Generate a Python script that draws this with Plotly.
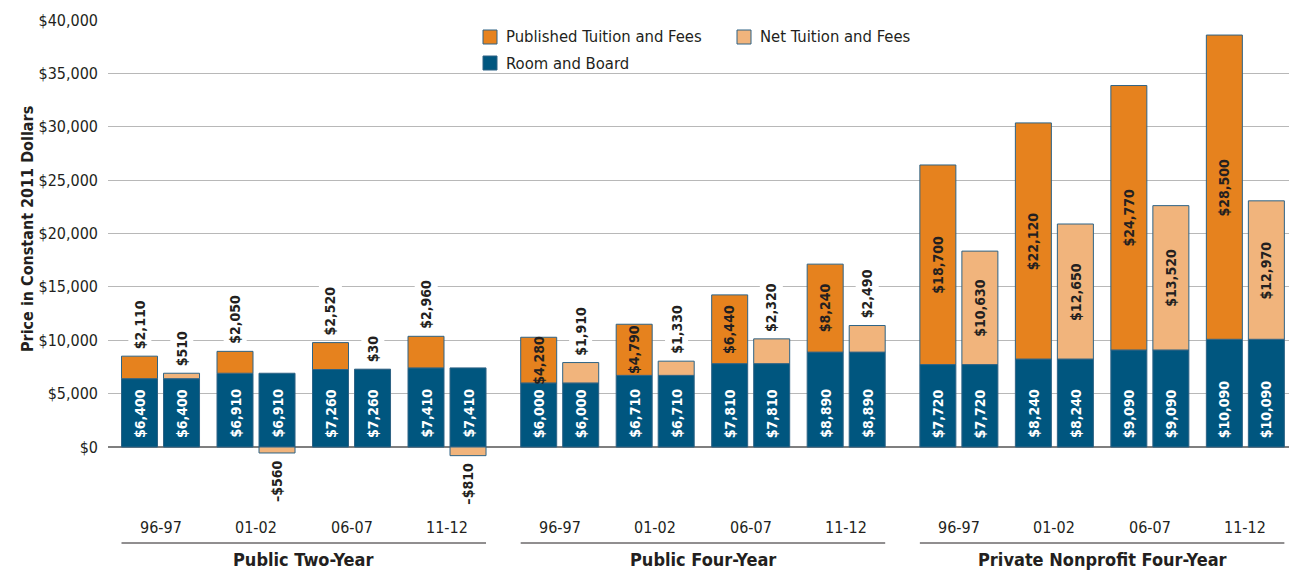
import plotly.graph_objects as go

# ---------------- data ----------------
sectors = ["Public Two-Year", "Public Four-Year", "Private Nonprofit Four-Year"]
years = ["96-97", "01-02", "06-07", "11-12"]
room_board = [[6400, 6910, 7260, 7410],
              [6000, 6710, 7810, 8890],
              [7720, 8240, 9090, 10090]]
published_tuition = [[2110, 2050, 2520, 2960],
                     [4280, 4790, 6440, 8240],
                     [18700, 22120, 24770, 28500]]
net_tuition = [[510, -560, 30, -810],
               [1910, 1330, 2320, 2490],
               [10630, 12650, 13520, 12970]]
y_ticks = [0, 5000, 10000, 15000, 20000, 25000, 30000, 35000, 40000]
y_tick_labels = ["$0", "$5,000", "$10,000", "$15,000", "$20,000",
                 "$25,000", "$30,000", "$35,000", "$40,000"]

# ---------------- style / layout ----------------
FONT = "Liberation Sans Narrow, DejaVu Sans Condensed, Arial Narrow, sans-serif"
C_PUB = "#E6821E"
C_NET = "#F1B47C"
C_RB = "#00567F"
C_EDGE = "#2E6385"
C_TXT = "#231F20"

W, H = 1289, 570
ML, MR, MT, MB = 108, 0, 20, 65
PW, PH = W - ML - MR, H - MT - MB

GROUP_STEP = 4.18
OFF = 0.22
BW = 0.377
XR = [-0.55, 11.817]
YR = [-5433, 40000]


def px_x(p):
    return (p - ML) / PW


def px_y(p):
    return (H - MB - p) / PH


xs_pub, xs_net, rb_flat, pub_flat, net_flat, centers = [], [], [], [], [], []
for g in range(len(sectors)):
    for i in range(len(years)):
        c = g * GROUP_STEP + i
        centers.append(c)
        xs_pub.append(c - OFF)
        xs_net.append(c + OFF)
        rb_flat.append(room_board[g][i])
        pub_flat.append(published_tuition[g][i])
        net_flat.append(net_tuition[g][i])

fig = go.Figure()
fig.add_trace(go.Bar(name="Room and Board", x=xs_pub + xs_net, y=rb_flat + rb_flat,
                     width=BW, marker=dict(color=C_RB, line=dict(color=C_EDGE, width=1)),
                     showlegend=False, hoverinfo="skip"))
fig.add_trace(go.Bar(name="Published Tuition and Fees", x=xs_pub, y=pub_flat,
                     width=BW, marker=dict(color=C_PUB, line=dict(color=C_EDGE, width=1)),
                     showlegend=False, hoverinfo="skip"))
fig.add_trace(go.Bar(name="Net Tuition and Fees", x=xs_net, y=net_flat,
                     width=BW, marker=dict(color=C_NET, line=dict(color=C_EDGE, width=1)),
                     showlegend=False, hoverinfo="skip"))


def money(v):
    s = "${:,}".format(abs(v))
    return ("\u2013" + s) if v < 0 else s


annotations = []
LBL = 14
for xs, tvals in ((xs_pub, pub_flat), (xs_net, net_flat)):
    for x, rb, v in zip(xs, rb_flat, tvals):
        annotations.append(dict(x=x, y=0, xref="x", yref="y", text=money(rb), textangle=-90,
                                showarrow=False, yanchor="bottom", yshift=7,
                                font=dict(family=FONT, size=LBL, color="white", weight="bold")))
        if v < 0:
            annotations.append(dict(x=x, y=v, xref="x", yref="y", text=money(v), textangle=-90,
                                    showarrow=False, yanchor="top", yshift=-5,
                                    font=dict(family=FONT, size=LBL, color=C_TXT, weight="bold")))
        elif v >= 4000:
            annotations.append(dict(x=x, y=rb + v / 2, xref="x", yref="y", text=money(v),
                                    textangle=-90, showarrow=False, yanchor="middle",
                                    font=dict(family=FONT, size=LBL, color=C_TXT, weight="bold")))
        else:
            annotations.append(dict(x=x, y=rb + v, xref="x", yref="y", text=money(v),
                                    textangle=-90, showarrow=False, yanchor="bottom", yshift=3,
                                    bgcolor="white", borderpad=3,
                                    font=dict(family=FONT, size=LBL, color=C_TXT, weight="bold")))

# y-axis title
annotations.append(dict(x=px_x(27), y=px_y(229), xref="paper", yref="paper",
                        text="Price in Constant 2011 Dollars", textangle=-90, showarrow=False,
                        xanchor="center", yanchor="middle",
                        font=dict(family=FONT, size=16, color=C_TXT, weight="bold")))

# year labels
for c, yr in zip(centers, years * len(sectors)):
    annotations.append(dict(x=c, y=px_y(527), xref="x", yref="paper", text=yr, showarrow=False,
                            yanchor="middle", font=dict(family=FONT, size=16, color=C_TXT)))

shapes = []
for g, name in enumerate(sectors):
    x0 = g * GROUP_STEP - OFF - BW / 2
    x1 = g * GROUP_STEP + 3 + OFF + BW / 2
    shapes.append(dict(type="line", xref="x", yref="paper", x0=x0, x1=x1,
                       y0=px_y(543), y1=px_y(543), line=dict(color=C_TXT, width=1)))
    annotations.append(dict(x=(x0 + x1) / 2, y=px_y(559), xref="x", yref="paper", text=name,
                            showarrow=False, yanchor="middle",
                            font=dict(family=FONT, size=18, color=C_TXT, weight="bold")))

# manual legend
legend_items = [("Published Tuition and Fees", C_PUB, 483, 37),
                ("Net Tuition and Fees", C_NET, 737, 37),
                ("Room and Board", C_RB, 483, 63)]
for name, col, lx, ly in legend_items:
    shapes.append(dict(type="rect", xref="paper", yref="paper",
                       x0=px_x(lx), x1=px_x(lx + 14), y0=px_y(ly + 7), y1=px_y(ly - 7),
                       fillcolor=col, line=dict(color=C_EDGE, width=1)))
    annotations.append(dict(x=px_x(lx + 21), y=px_y(ly), xref="paper", yref="paper", text=name,
                            showarrow=False, xanchor="left", yanchor="middle",
                            font=dict(family=FONT, size=16.5, color=C_TXT)))

fig.update_layout(
    width=W, height=H,
    margin=dict(l=ML, r=MR, t=MT, b=MB, autoexpand=False),
    barmode="relative",
    plot_bgcolor="white", paper_bgcolor="white",
    font=dict(family=FONT, color=C_TXT),
    showlegend=False,
    annotations=annotations,
    shapes=shapes,
    xaxis=dict(range=XR, showgrid=False, zeroline=False, showticklabels=False,
               showline=False, fixedrange=True),
    yaxis=dict(range=YR, tickmode="array", tickvals=y_ticks, ticktext=y_tick_labels,
               showgrid=True, gridcolor="#B8B8B8", gridwidth=1,
               zeroline=True, zerolinecolor="#7F7F7F", zerolinewidth=1.5,
               showline=False, ticks="", ticklabelstandoff=9,
               tickfont=dict(family=FONT, size=16, color=C_TXT),
               automargin=False, fixedrange=True),
)

fig.write_html("out.html", config={"displayModeBar": False},
               post_script="document.body.style.margin='0';document.body.style.overflow='hidden';")
